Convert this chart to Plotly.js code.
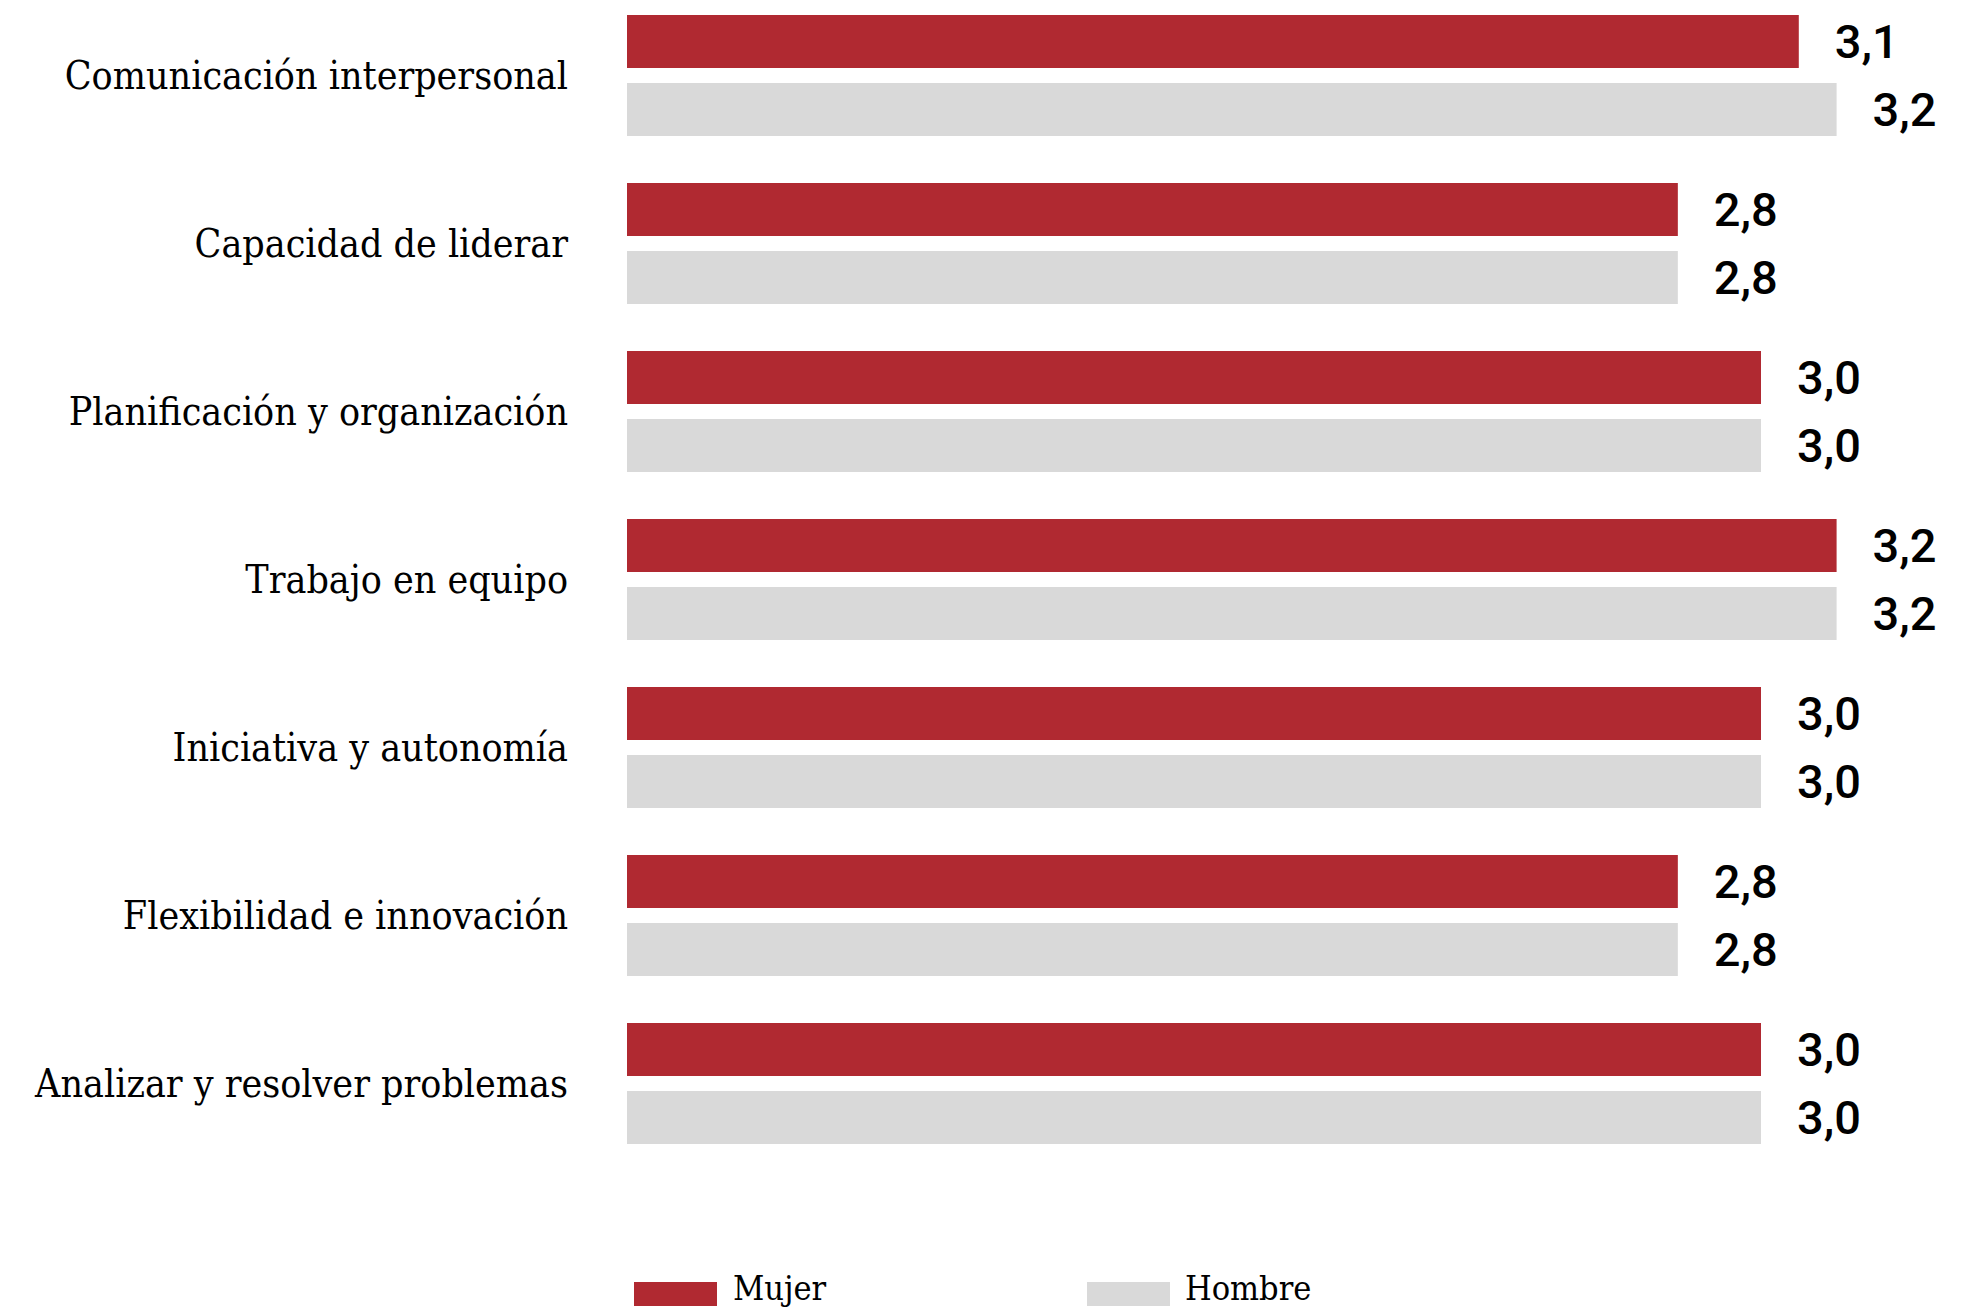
<!DOCTYPE html>
<html>
<head>
<meta charset="utf-8">
<script src="https://cdn.plot.ly/plotly-3.0.1.min.js"></script>
<style>html,body{margin:0;padding:0;background:#fff;}#chart{width:1983px;height:1310px;}</style>
</head>
<body>
<div id="chart"></div>
<script>
const categories = [
  "Comunicación interpersonal",
  "Capacidad de liderar",
  "Planificación y organización",
  "Trabajo en equipo",
  "Iniciativa y autonomía",
  "Flexibilidad e innovación",
  "Analizar y resolver problemas"
];
const seriesNames = ["Mujer", "Hombre"];
const mujer  = [3.10, 2.78, 3.00, 3.20, 3.00, 2.78, 3.00];
const hombre = [3.20, 2.78, 3.00, 3.20, 3.00, 2.78, 3.00];
const colors = ["#B02931", "#D9D9D9"];

const pad = "\u00A0\u00A0\u2009";
function barTrace(name, vals, color) {
  return {
    type: "bar",
    orientation: "h",
    name: name,
    x: vals,
    y: categories,
    marker: {color: color, line: {width: 0}},
    texttemplate: pad + "%{x:.1f}",
    textposition: "outside",
    constraintext: "none",
    cliponaxis: false,
    textfont: {family: "Roboto", size: 47, weight: 500, color: "#000"},
    hoverinfo: "skip",
    showlegend: false
  };
}

const data = [
  barTrace(seriesNames[0], mujer, colors[0]),
  barTrace(seriesNames[1], hombre, colors[1])
];

const plotH = 1200;
const catPx = 168;
const topVal = -75.5 / catPx;
const botVal = topVal + plotH / catPx;
const pxPerUnit = 378;
const plotW = 1983 - 627;

function px2paperX(px) { return (px - 627) / plotW; }
function py2paperY(py) { return (plotH - py) / plotH; }

const legendItems = [
  {name: seriesNames[0], color: colors[0], x0: 634, x1: 717, tx: 731},
  {name: seriesNames[1], color: colors[1], x0: 1087, x1: 1170, tx: 1183}
];

const layout = {
  width: 1983,
  height: 1310,
  margin: {l: 627, r: 0, t: 0, b: 1310 - plotH},
  paper_bgcolor: "#fff",
  plot_bgcolor: "#fff",
  separators: ", ",
  barmode: "group",
  bargap: 0.1905,
  bargroupgap: 0.2206,
  showlegend: false,
  xaxis: {
    range: [0, plotW / pxPerUnit],
    showticklabels: false,
    showgrid: false,
    zeroline: false,
    showline: false,
    fixedrange: true
  },
  yaxis: {
    type: "category",
    range: [botVal, topVal],
    autorange: false,
    showgrid: false,
    zeroline: false,
    showline: false,
    ticks: "",
    ticklabelstandoff: 58,
    tickfont: {family: "DejaVu Serif Condensed, DejaVu Serif, serif", size: 39, color: "#000"},
    fixedrange: true
  },
  shapes: legendItems.map(it => ({
    type: "rect", xref: "paper", yref: "paper",
    x0: px2paperX(it.x0), x1: px2paperX(it.x1),
    y0: py2paperY(1306), y1: py2paperY(1282),
    fillcolor: it.color, line: {width: 0}
  })),
  annotations: legendItems.map(it => ({
    xref: "paper", yref: "paper",
    x: px2paperX(it.tx), y: py2paperY(1288),
    xanchor: "left", yanchor: "middle",
    text: it.name, showarrow: false,
    font: {family: "DejaVu Serif Condensed, DejaVu Serif, serif", size: 34, color: "#000"}
  }))
};

Plotly.newPlot("chart", data, layout, {displayModeBar: false, staticPlot: true});
</script>
</body>
</html>
